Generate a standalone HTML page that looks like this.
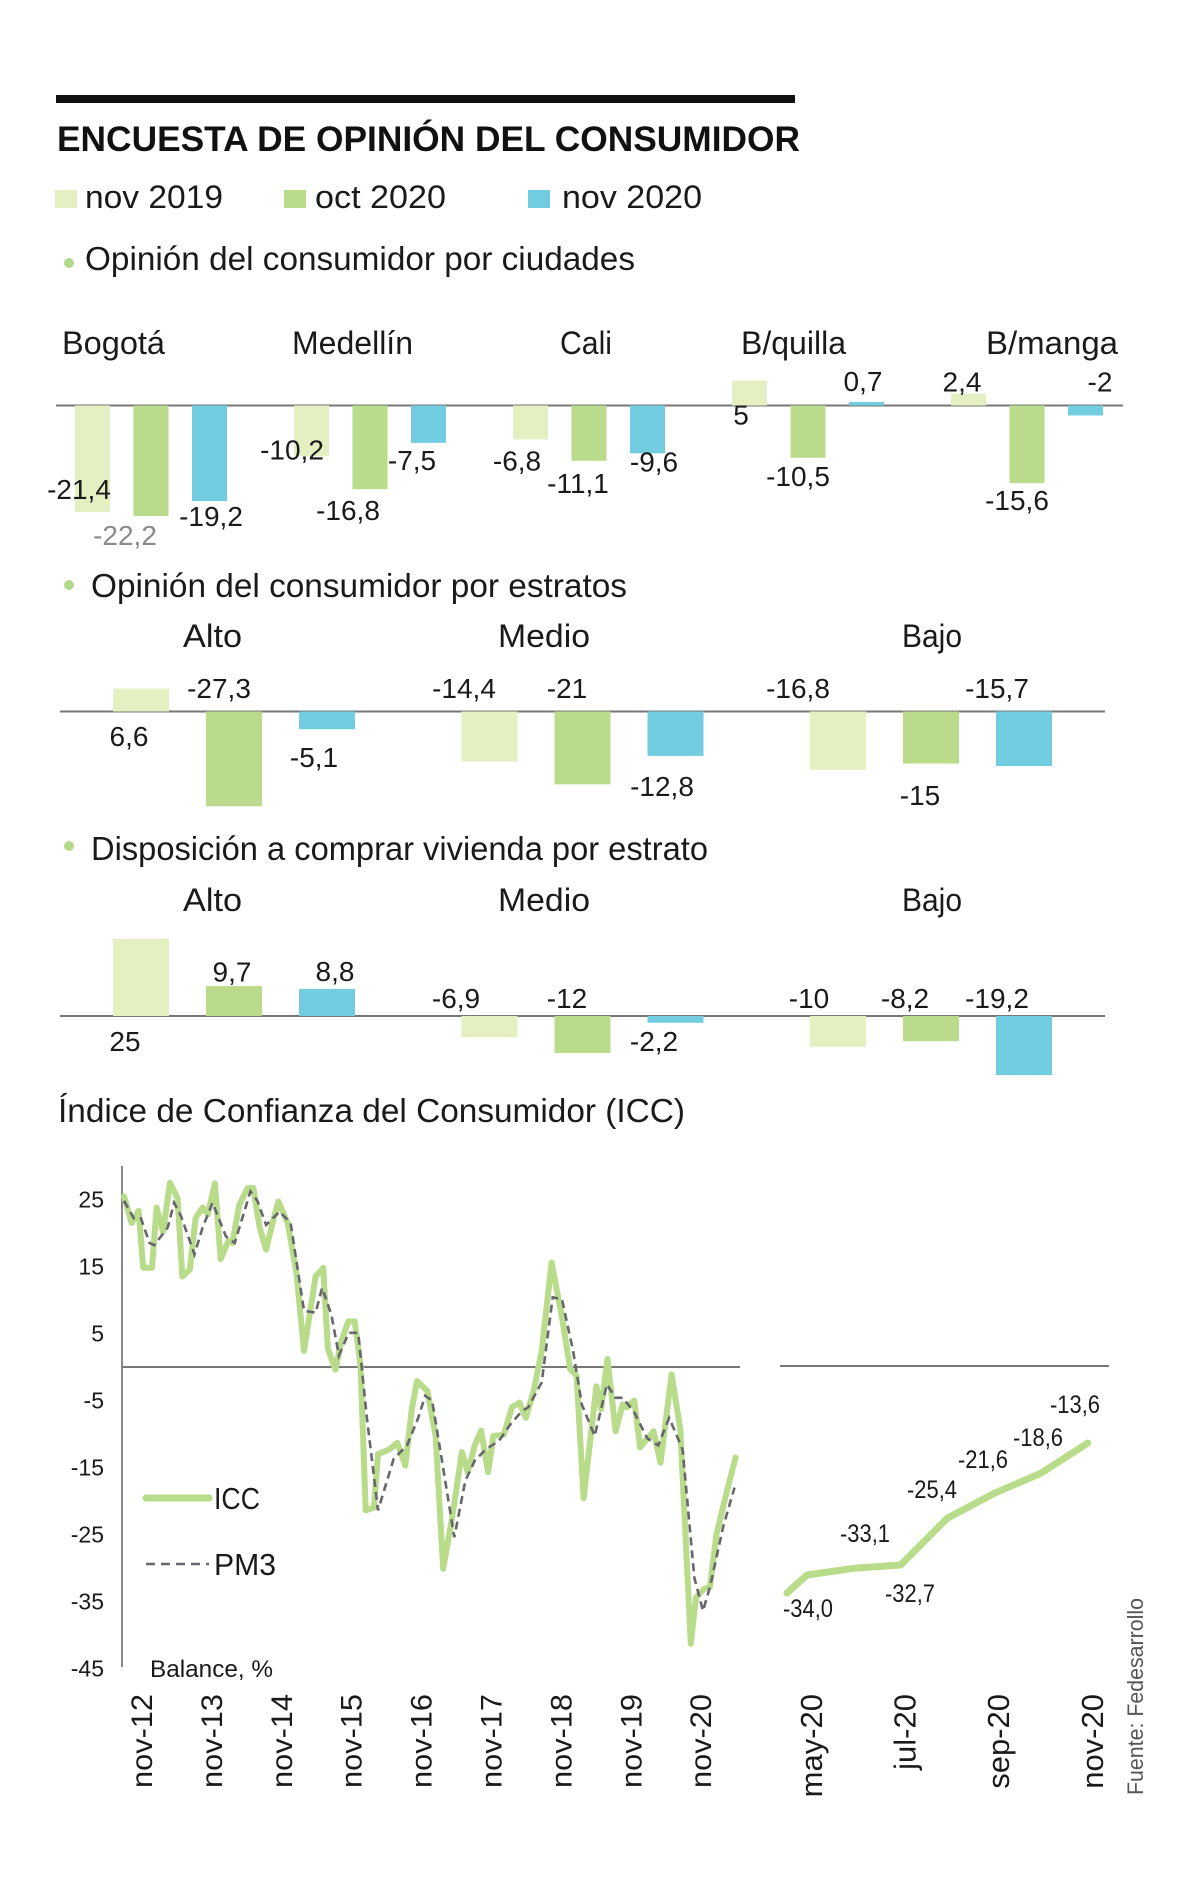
<!DOCTYPE html>
<html><head><meta charset="utf-8">
<style>
html,body{margin:0;padding:0;background:#fff;}
svg{display:block;font-family:"Liberation Sans",Arial,sans-serif;}
</style></head>
<body>
<svg id="chart" xmlns="http://www.w3.org/2000/svg" width="1200" height="1894" viewBox="0 0 1200 1894">
  <rect x="0" y="0" width="1200" height="1894" fill="#ffffff"/>
  <rect x="56" y="95" width="739" height="8" fill="#111"/>
  <text x="57" y="151" font-size="35" font-weight="bold" fill="#111" textLength="743" lengthAdjust="spacingAndGlyphs">ENCUESTA DE OPINIÓN DEL CONSUMIDOR</text>

  <g>
    <rect x="55" y="190" width="22" height="18" fill="#e4efc2"/>
    <text x="85" y="208" font-size="32" fill="#1a1a1a" textLength="138" lengthAdjust="spacingAndGlyphs">nov 2019</text>
    <rect x="284" y="190" width="22" height="18" fill="#badb8b"/>
    <text x="315" y="208" font-size="32" fill="#1a1a1a" textLength="131" lengthAdjust="spacingAndGlyphs">oct 2020</text>
    <rect x="528" y="190" width="22" height="18" fill="#72cde0"/>
    <text x="562" y="208" font-size="32" fill="#1a1a1a" textLength="140" lengthAdjust="spacingAndGlyphs">nov 2020</text>
  </g>

  <circle cx="69" cy="263" r="5" fill="#b5d98a"/>
  <text x="85" y="270" font-size="33" fill="#1a1a1a" textLength="550" lengthAdjust="spacingAndGlyphs">Opinión del consumidor por ciudades</text>
  <g id="cities"></g>

  <circle cx="69" cy="585" r="5" fill="#b5d98a"/>
  <text x="91" y="597" font-size="33" fill="#1a1a1a" textLength="536" lengthAdjust="spacingAndGlyphs">Opinión del consumidor por estratos</text>
  <g id="estratos"></g>

  <circle cx="69" cy="846" r="5" fill="#b5d98a"/>
  <text x="91" y="860" font-size="33" fill="#1a1a1a" textLength="617" lengthAdjust="spacingAndGlyphs">Disposición a comprar vivienda por estrato</text>
  <g id="vivienda"></g>

  <text x="58" y="1122" font-size="33" fill="#1a1a1a" textLength="627" lengthAdjust="spacingAndGlyphs">Índice de Confianza del Consumidor (ICC)</text>
  <g id="icc"></g>
  <g id="icc-right"></g>

  <text transform="translate(1143,1795) rotate(-90)" font-size="22" fill="#555" textLength="197" lengthAdjust="spacingAndGlyphs">Fuente: Fedesarrollo</text>
</svg>
<script>
// ---------- data ----------
const cityNames = ['Bogotá','Medellín','Cali','B/quilla','B/manga'];
const cityNov19 = [-21.4,-10.2,-6.8,5,2.4];
const cityOct20 = [-22.2,-16.8,-11.1,-10.5,-15.6];
const cityNov20 = [-19.2,-7.5,-9.6,0.7,-2];

const estratoNames = ['Alto','Medio','Bajo'];
const estNov19 = [6.6,-14.4,-16.8];
const estOct20 = [-27.3,-21,-15];
const estNov20 = [-5.1,-12.8,-15.7];

const vivNov19 = [25,-6.9,-10];
const vivOct20 = [9.7,-12,-8.2];
const vivNov20 = [8.8,-2.2,-19.2];

const iccMonths = [0,1.3,2.5,3.3,4.8,5.6,6.7,7.9,9.2,10,11.3,12.3,13.5,14.4,15.6,16.6,17.9,18.6,19.8,21.2,22.2,23.3,24.4,25.4,26.5,28.1,29.6,30.9,32.9,34.2,35,36.3,37.3,38.5,39.6,40.6,41.5,42.9,43.6,45.6,46.9,48.3,49.4,50.3,52.1,53.5,54.8,56.3,58,59,60.2,61.3,62.5,63.4,65.2,66.6,67.9,69,70.4,71.7,73.4,75.2,76.6,77.7,78.9,81.1,81.9,83,84.4,85.6,86.3,87.6,88.6,90.9,92.1,94,95.5,97.3,98.2,99.6,100.6,101.7,103.6,105];
const iccValues = [25.5,21.5,23.3,14.8,14.8,23.8,20.2,27.5,25.2,13.5,14.5,22.2,23.8,22.8,27.4,16.1,18.8,18.5,24.2,26.7,26.7,20.8,17.5,21.2,24.7,21.5,14.1,2.4,13.5,14.8,2.7,-0.4,3.8,6.8,6.8,0.4,-21.4,-21,-13,-12.3,-11.3,-14.7,-6.3,-2.1,-3.6,-10.3,-30.1,-22.7,-12.7,-15.7,-11.7,-9.5,-15.7,-10.3,-10.1,-6,-5.3,-7.6,-3.3,2.4,15.6,7.4,-0.3,-1.3,-19.6,-2.9,-6.3,1.2,-9.6,-5.6,-6,-5,-12,-9.6,-14.3,-1.1,-9.3,-41.3,-34.4,-33.1,-32.8,-25,-18.2,-13.5];
const pm3Months = [0,1.7,2.9,4.4,5.2,7.5,8.6,9.8,11.3,12.1,13.5,15.2,17.5,19,21.7,22.9,24.4,26.7,28.6,30.9,32.9,34,35.6,36.9,38.6,40.2,41.7,43.6,46.3,48.6,50.5,51.7,52.9,54.4,56.7,58.6,60.2,62.1,64.4,66.3,68.3,69.4,71.7,73.6,75.2,77.1,78.6,80.8,82.9,84.4,85.6,87.5,89.8,91.7,93.6,95.9,97.9,99.4,100.6,102.9,104.8];
const pm3Values = [24.8,22.2,22.2,18.5,18.2,20.8,24.5,22.5,18.8,16.8,20.8,24.5,19.5,18.5,26.2,24.8,21.2,23.2,21.5,8.4,8.1,11.8,7.8,1.7,5.1,5.1,-7.6,-21.4,-13.7,-11.7,-7.6,-4.3,-5,-13,-25.4,-17,-14,-12.3,-11,-8.6,-6.6,-6,-2.3,10.4,10.1,2.4,-5.6,-10.3,-2.6,-4.6,-4.6,-6.6,-10.6,-11.7,-7.6,-12.3,-31.4,-36.4,-32.8,-23.7,-18];
const yTicks = [25,15,5,-5,-15,-25,-35,-45];
const xTickLabels = ['nov-12','nov-13','nov-14','nov-15','nov-16','nov-17','nov-18','nov-19','nov-20'];

const recentMonths = [-0.43,0,1,2,3,4,5,6];
const recentValues = [-33.9,-31.2,-30.2,-29.7,-22.7,-19,-16,-11.5];
const recentTickLabels = ['may-20','jul-20','sep-20','nov-20'];
const recentTickIdx = [0,2,4,6];
const recentPrinted = ['-34,0','-33,1','-32,7','-25,4','-21,6','-18,6','-13,6'];

// ---------- helpers ----------
const NS = 'http://www.w3.org/2000/svg';
function mk(tag, parent, attrs){
  const e = document.createElementNS(NS, tag);
  for (const k in attrs) e.setAttribute(k, attrs[k]);
  parent.appendChild(e);
  return e;
}
function fmt(v){ return String(v).replace('.', ','); }
const COLORS = ['#e4efc2','#badb8b','#72cde0'];
const SERIES_NAMES = ['nov-2019','oct-2020','nov-2020'];
const TXT = '#1a1a1a';

function groupedBars(g, cfg){
  const yS = v => cfg.zero - v*cfg.scale;
  mk('line', g, {x1:cfg.axisX0, x2:cfg.axisX1, y1:cfg.zero, y2:cfg.zero, stroke:'#777', 'stroke-width':2});
  
  
  cfg.names.forEach((n, gi) => {
    const t = mk('text', g, {x:cfg.nameX[gi], y:cfg.nameY, 'font-size':32, fill:TXT, textLength:cfg.nameW[gi], lengthAdjust:'spacingAndGlyphs'});
    t.textContent = n;
    
    
    cfg.series.forEach((arr, si) => {
      const v = arr[gi];
      const x = cfg.x0 + gi*cfg.gStep + si*cfg.sStep;
      const y0 = yS(0), y1 = yS(v);
      const r = mk('rect', g, {x:x, y:Math.min(y0,y1), width:cfg.bw, height:Math.abs(y1-y0), fill:COLORS[si]});
      
      
      const off = cfg.offsets[gi*3+si];
      const lbl = mk('text', g, {x:x + cfg.bw/2 + off[0], y:y1 + off[1], 'font-size':28, 'text-anchor':'middle', fill:(off[2]||TXT)});
      lbl.textContent = fmt(v);
      
      
    });
  });
}

groupedBars(document.getElementById('cities'), {
  names: cityNames, series:[cityNov19, cityOct20, cityNov20],
  zero:405.5, scale:4.98, axisX0:56, axisX1:1123,
  x0:75, gStep:219, sStep:58.5, bw:35,
  nameX:[62,292,560,741,986], nameY:354, nameW:[103,121,52,105,132],
  offsets:[[-13.5,-13],[-26,29,'#8a8a8a'],[1.5,25],[-19.5,3],[-22,31],[-16.5,27],[-13.5,31],[-11,32],[6.5,18],[-8.5,44],[-10,28],[-3.5,-11],[-6.5,-2],[-10,27],[14.5,-24]]
});

groupedBars(document.getElementById('estratos'), {
  names: estratoNames, series:[estNov19, estOct20, estNov20],
  zero:711.5, scale:3.47, axisX0:60, axisX1:1105,
  x0:113, gStep:348.5, sStep:93, bw:56,
  nameX:[183,498,902], nameY:647, nameW:[59,92,60],
  offsets:[[-12,57.4],[-15,-108],[-13,38],[-25.5,-63.5],[-15.5,-86.4],[-13.5,40],[-40,-72],[-11,41.4],[-27,-68]]
});

groupedBars(document.getElementById('vivienda'), {
  names: estratoNames, series:[vivNov19, vivOct20, vivNov20],
  zero:1016, scale:3.08, axisX0:60, axisX1:1105,
  x0:113, gStep:348.5, sStep:93, bw:56,
  nameX:[183,498,902], nameY:911, nameW:[59,92,60],
  offsets:[[-16,112],[-2,-4.6],[8,-8],[-33.5,-29.3],[-15.5,-45],[-21.5,28],[-29,-38.8],[-26,-33.3],[-27,-67]]
});

(function(){
  const g = document.getElementById('icc');
  const ZERO = 1367, SC = 6.7, X0 = 124, MW = 5.825;
  const xS = i => X0 + i*MW;
  const yS = v => ZERO - v*SC;
  const ax = mk('line', g, {x1:122, x2:122, y1:1166, y2:1667, stroke:'#888', 'stroke-width':2});
  
  
  const zl = mk('line', g, {x1:122, x2:740, y1:ZERO, y2:ZERO, stroke:'#777', 'stroke-width':2});
  
  
  yTicks.forEach(v => {
    const t = mk('text', g, {x:104, y:yS(v)+8, 'font-size':23, 'text-anchor':'end', fill:TXT});
    t.textContent = String(v);
    
    
  });
  xTickLabels.forEach((s, k) => {
    const t = mk('text', g, {transform:'translate(' + (xS(k*12)+28) + ',1694) rotate(-90)', 'font-size':30, 'text-anchor':'end', fill:TXT, textLength:94, lengthAdjust:'spacingAndGlyphs'});
    t.textContent = s;
    
    
  });
  const iccPts = iccMonths.map((m,i) => xS(m).toFixed(1) + ',' + yS(iccValues[i]).toFixed(1)).join(' ');
  const l1 = mk('polyline', g, {points:iccPts, fill:'none', stroke:'#b8dc8a', 'stroke-width':6, 'stroke-linejoin':'round', 'stroke-linecap':'round'});
  
  
  const pmPts = pm3Months.map((m,i) => xS(m).toFixed(1) + ',' + yS(pm3Values[i]).toFixed(1)).join(' ');
  const l2 = mk('polyline', g, {points:pmPts, fill:'none', stroke:'#66666c', 'stroke-width':2.6, 'stroke-dasharray':'8 5'});
  
  
  const a = mk('line', g, {x1:146, x2:209, y1:1498, y2:1498, stroke:'#b8dc8a', 'stroke-width':7, 'stroke-linecap':'round'});
  
  
  const at = mk('text', g, {x:214, y:1509, 'font-size':31, fill:TXT, textLength:46, lengthAdjust:'spacingAndGlyphs'});
  at.textContent = 'ICC';
  
  
  const b = mk('line', g, {x1:146, x2:209, y1:1564, y2:1564, stroke:'#66666c', 'stroke-width':2.6, 'stroke-dasharray':'9 6'});
  
  
  const bt = mk('text', g, {x:214, y:1575, 'font-size':31, fill:TXT, textLength:62, lengthAdjust:'spacingAndGlyphs'});
  bt.textContent = 'PM3';
  
  
  const bal = mk('text', g, {x:150, y:1677, 'font-size':24, fill:TXT, textLength:123, lengthAdjust:'spacingAndGlyphs'});
  bal.textContent = 'Balance, %';
  
  
})();

(function(){
  const g = document.getElementById('icc-right');
  const ZERO = 1366, SC = 6.7, X0 = 807, MW = 46.8;
  const xS = i => X0 + i*MW;
  const yS = v => ZERO - v*SC;
  const zl = mk('line', g, {x1:780, x2:1109, y1:ZERO, y2:ZERO, stroke:'#777', 'stroke-width':2});
  
  
  const pts = recentMonths.map((m,i) => xS(m).toFixed(1) + ',' + yS(recentValues[i]).toFixed(1)).join(' ');
  const l = mk('polyline', g, {points:pts, fill:'none', stroke:'#b8dc8a', 'stroke-width':7, 'stroke-linejoin':'round', 'stroke-linecap':'round'});
  
  
  recentTickLabels.forEach((s, k) => {
    const t = mk('text', g, {transform:'translate(' + (xS(recentTickIdx[k])+15) + ',1694) rotate(-90)', 'font-size':31, 'text-anchor':'end', fill:TXT});
    t.textContent = s;
    
    
  });
  const lblX = [783,840,885,907,958,1013,1050];
  const lblY = [1617,1542,1602,1498,1468,1446,1413];
  recentPrinted.forEach((s, k) => {
    const t = mk('text', g, {x:lblX[k], y:lblY[k], 'font-size':25, fill:TXT, textLength:50, lengthAdjust:'spacingAndGlyphs'});
    t.textContent = s;
    
    
  });
})();
</script>
</body></html>
